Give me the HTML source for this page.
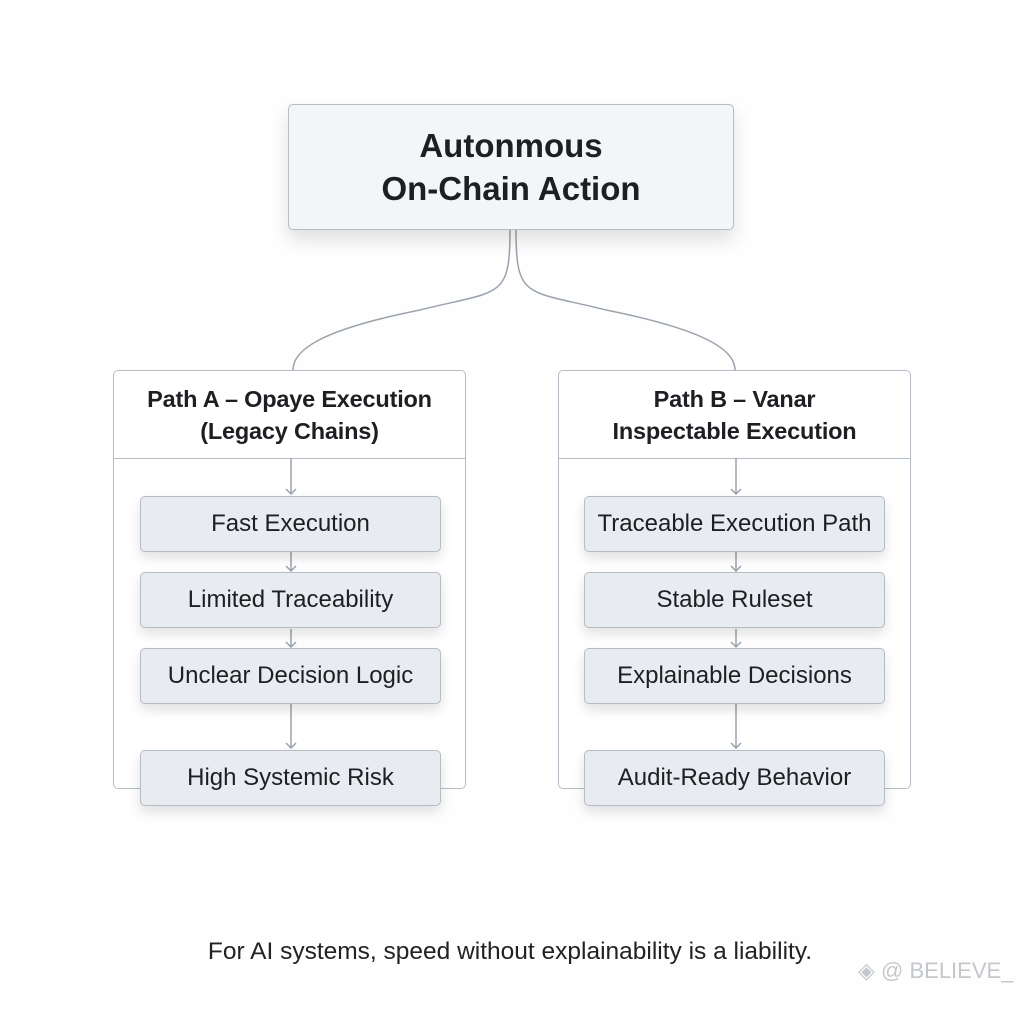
<!DOCTYPE html>
<html><head><meta charset="utf-8"><style>
body{margin:0;width:1024px;height:1024px;background:#fefefe;position:relative;font-family:"Liberation Sans",sans-serif;color:#1d1f22;overflow:hidden}
.abs{position:absolute;box-sizing:border-box}
.top{left:288px;top:104px;width:446px;height:126px;border:1.5px solid #b5bcc6;border-radius:5px;background:#f4f5f7;box-shadow:0 10px 18px rgba(0,0,0,.12);display:flex;align-items:center;justify-content:center;text-align:center;font-weight:bold;font-size:33px;line-height:43px}
.panel{top:370px;width:353px;height:419px;border:1.5px solid #b5bcc6;border-radius:5px;background:#fff}
.hdr{position:absolute;left:0;right:0;top:0;height:87px;border-bottom:1.5px solid #b5bcc6;display:flex;align-items:center;justify-content:center;text-align:center;font-weight:bold;font-size:23.5px;line-height:32px;letter-spacing:-0.2px}
.item{width:301px;height:56px;border:1.5px solid #b5bcc6;border-radius:5px;background:#e8ebf0;box-shadow:0 6px 12px rgba(0,0,0,.12);display:flex;align-items:center;justify-content:center;font-size:24px}
.foot{left:0;width:1020px;top:938px;text-align:center;font-size:24.5px;color:#222}
</style></head><body>
<svg class="abs" style="left:0;top:0" width="1024" height="1024">
<g fill="none" stroke="#9aa3ae" stroke-width="1.5">
<path d="M510 230 C510 300 500 290 420 310 C320 330 293 350 293 370"/>
<path d="M516 230 C516 300 526 290 606 310 C706 330 735 350 735 370"/>
</g></svg>
<div class="abs top">Autonmous<br>On-Chain Action</div>
<div class="abs panel" style="left:113px"><div class="hdr">Path A – Opaye Execution<br>(Legacy Chains)</div></div>
<div class="abs panel" style="left:558px"><div class="hdr">Path B – Vanar<br>Inspectable Execution</div></div>
<svg class="abs" style="left:0;top:0" width="1024" height="1024">
<g fill="none" stroke="#9aa3ae" stroke-width="1.5">
<path d="M291 458V494M286 489l5 5 5-5M291 552V571M286 566l5 5 5-5M291 629V647M286 642l5 5 5-5M291 704V748M286 743l5 5 5-5"/>
<path d="M736 458V494M731 489l5 5 5-5M736 552V571M731 566l5 5 5-5M736 629V647M731 642l5 5 5-5M736 704V748M731 743l5 5 5-5"/>
</g></svg>
<div class="abs item" style="left:140px;top:496px">Fast Execution</div>
<div class="abs item" style="left:140px;top:572px">Limited Traceability</div>
<div class="abs item" style="left:140px;top:648px">Unclear Decision Logic</div>
<div class="abs item" style="left:140px;top:750px">High Systemic Risk</div>
<div class="abs item" style="left:584px;top:496px">Traceable Execution Path</div>
<div class="abs item" style="left:584px;top:572px">Stable Ruleset</div>
<div class="abs item" style="left:584px;top:648px">Explainable Decisions</div>
<div class="abs item" style="left:584px;top:750px">Audit-Ready Behavior</div>
<div class="abs foot">For AI systems, speed without explainability is a liability.</div>
<div class="abs" style="left:858px;top:958px;font-size:22px;color:#c4c7cc">◈ @ BELIEVE_</div>
</body></html>
